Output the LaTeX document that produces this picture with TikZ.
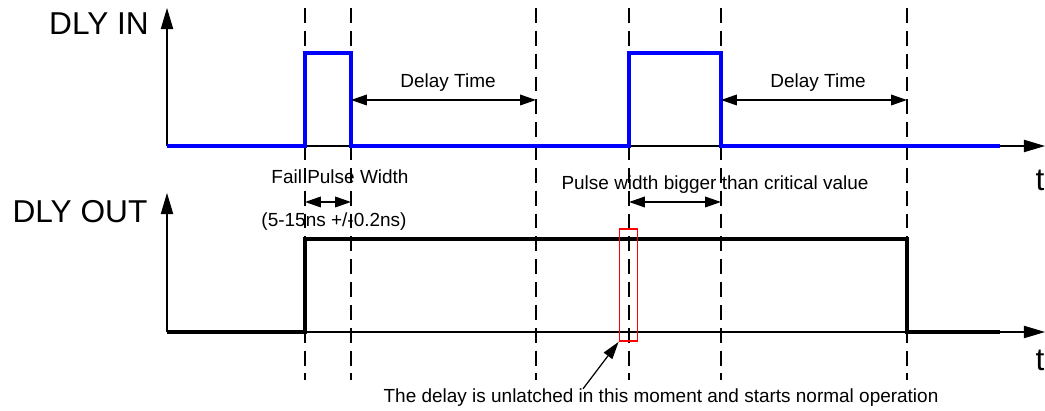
\documentclass[tikz,border=0pt]{standalone}
\usepackage{fontspec}
\setmainfont{Liberation Sans}
\usetikzlibrary{arrows.meta,positioning}

\begin{document}
\begin{tikzpicture}[
    x=0.02cm, y=-0.02cm,
    axis/.style={line width=0.6pt, -{Triangle[length=12pt,width=7pt]}},
    dimline/.style={line width=0.9pt, {Triangle[length=9pt,width=6pt]}-{Triangle[length=9pt,width=6pt]}},
    pointer/.style={line width=0.7pt, -{Triangle[length=10pt,width=6pt]}},
    guide/.style={line width=0.6pt, dash pattern=on 8.5pt off 4.5pt},
    sigin/.style={blue, line width=1.8pt},
    sigout/.style={black, line width=1.8pt},
    big/.style={font=\fontsize{18}{20}\selectfont, inner sep=0pt},
    note/.style={font=\fontsize{10.8}{12}\selectfont, inner sep=0pt},
    marker/.style={draw=red, line width=1pt, minimum width=0.36cm, minimum height=2.24cm, inner sep=0pt}
]
    \useasboundingbox (0,0) rectangle (1045,411);

    % origins of the two traces
    \coordinate (o1) at (167,146);
    \coordinate (o2) at (167,332);

    % guide lines
    \foreach \n/\x in {ga/305, gb/351, gc/536, gd/629, ge/721, gf/907} {
        \coordinate (\n) at (\x,8);
        \draw[guide] (\n) -- (\x,380);
    }

    % axes
    \draw[axis] (o1) -- (167,8);
    \draw[axis] (o1) -- (1045,146);
    \draw[axis] (o2) -- (167,193);
    \draw[axis] (o2) -- (1045,332);

    % signals
    \draw[sigin] (o1) -- (305,146) -- (305,53) -- (351,53) -- (351,146)
        -- (629,146) -- (629,53) -- (721,53) -- (721,146) -- (1000,146);
    \draw[sigout] (o2) -- (305,332) -- (305,239) -- (907,239) -- (907,332) -- (1000,332);

    % labels
    \node[big] (lin) at (99,24) {DLY IN};
    \node[big] (lout) at (80,212) {DLY OUT};
    \node[big] (t1) at (1040,180) {t};
    \node[big] (t2) at (1040,360) {t};

    % delay times
    \draw[dimline] (gb |- 0,100) -- (gc |- 0,100);
    \node[note] (d1) at (448,83) {Delay Time};
    \draw[dimline] (ge |- 0,100) -- (gf |- 0,100);
    \node[note] (d2) at (818,83) {Delay Time};

    % fail pulse
    \draw[dimline] (ga |- 0,202) -- (gb |- 0,202);
    \node[note] (fail) at (340,177) {Fail Pulse Width};
    \node[note] (range) at (334,222) {(5-15ns +/-0.2ns)};

    % good pulse
    \draw[dimline] (gd |- 0,202) -- (ge |- 0,202);
    \node[note] (good) at (715,185) {Pulse width bigger than critical value};

    % unlatch moment
    \node[marker] (latch) at (628.5,285) {};
    \node[note] (unlatch) at (661,398) {The delay is unlatched in this moment and starts normal operation};
    \draw[pointer] (unlatch.north -| 583,0) -- (latch.south west);
\end{tikzpicture}
\end{document}
